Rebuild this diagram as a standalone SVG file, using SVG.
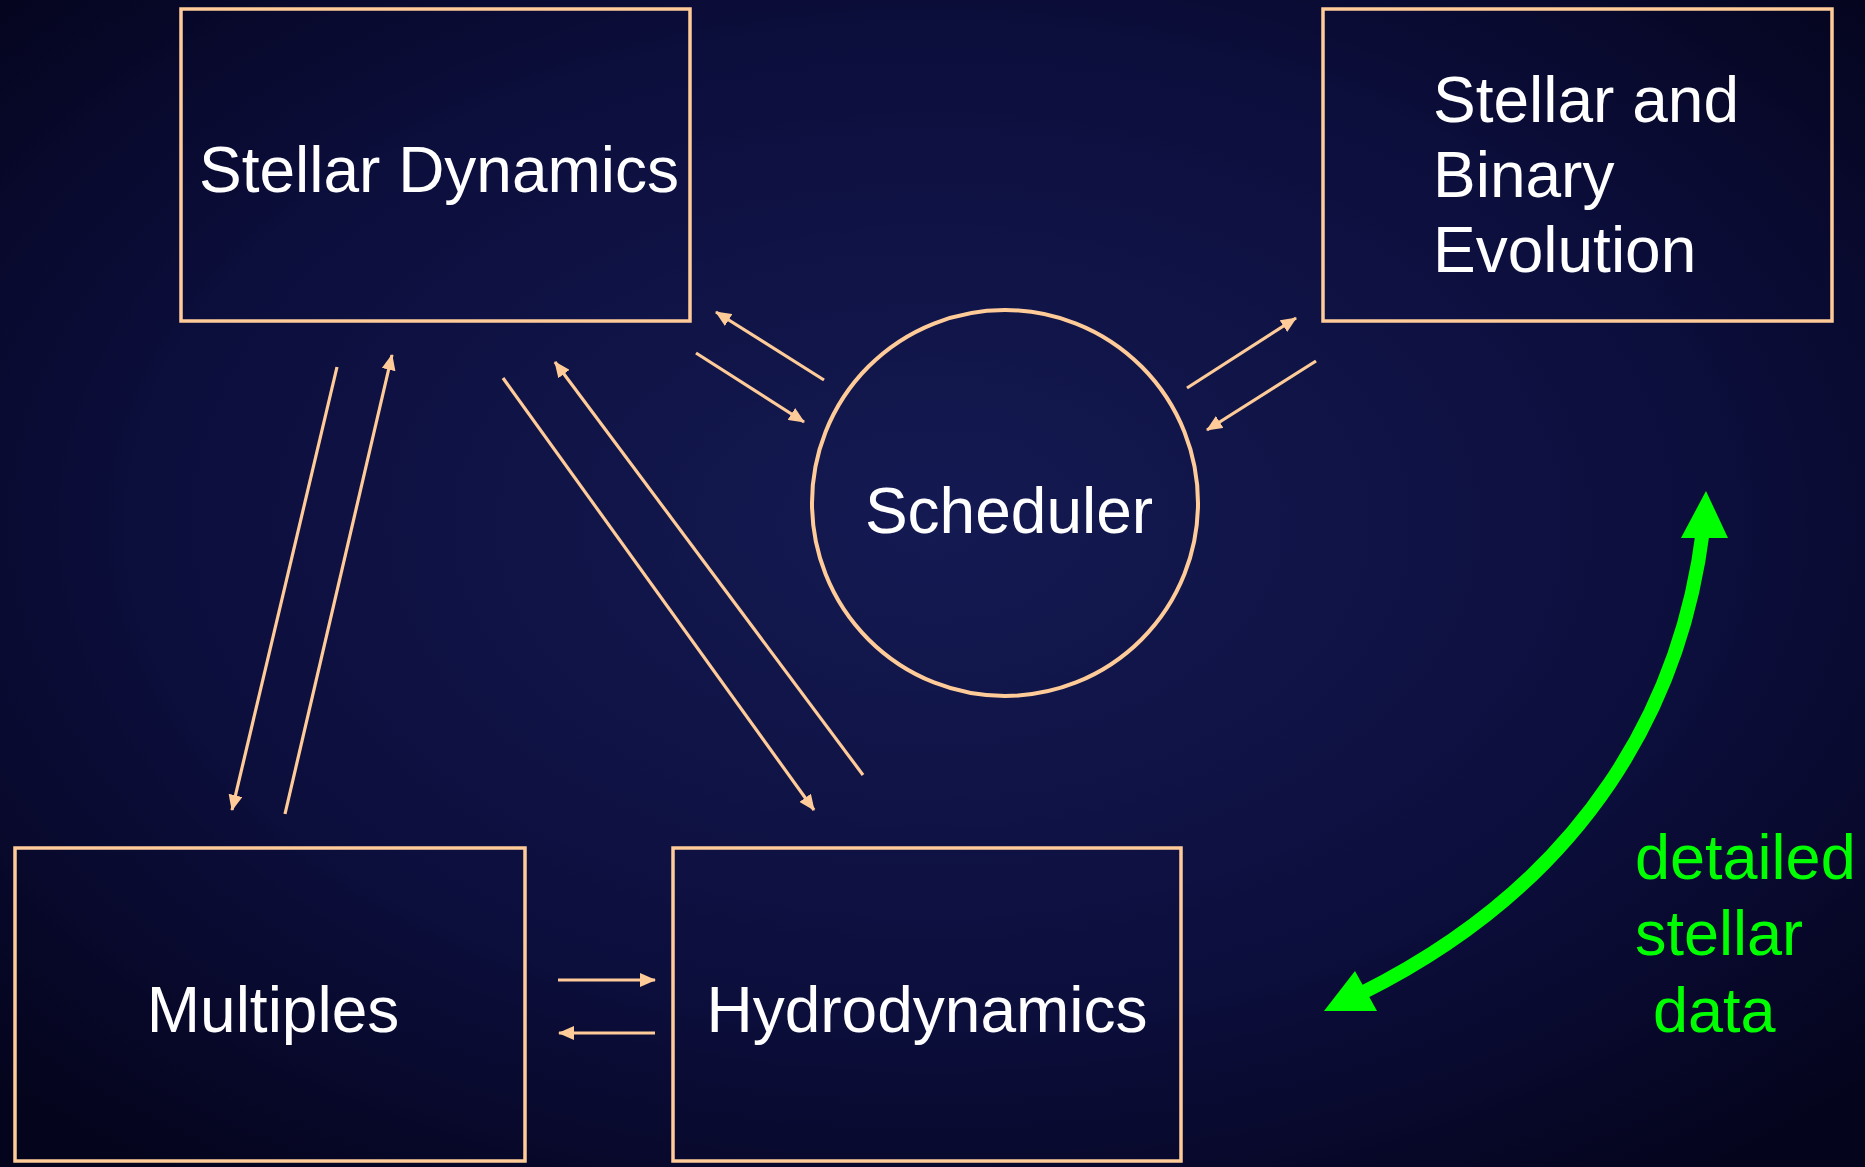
<svg xmlns="http://www.w3.org/2000/svg" width="1865" height="1167" viewBox="0 0 1865 1167">
  <defs>
    <radialGradient id="bg" cx="50%" cy="45%" r="70%">
      <stop offset="0" stop-color="#141a52"/>
      <stop offset="0.6" stop-color="#0c0e3c"/>
      <stop offset="1" stop-color="#04041c"/>
    </radialGradient>
    <marker id="ah" viewBox="0 0 16 14" markerWidth="16" markerHeight="14" refX="15" refY="7" markerUnits="userSpaceOnUse" orient="auto">
      <path d="M0,0 L16,7 L0,14 z" fill="#FFCC99"/>
    </marker>
    <style>
      .box { fill: none; stroke: #FFCC99; stroke-width: 3.5; }
      .lbl { font-family: "Liberation Sans", Arial, sans-serif; font-size: 64px; fill: #ffffff; }
      .grn { font-family: "Liberation Sans", Arial, sans-serif; font-size: 63px; fill: #00ff00; }
      .con { stroke: #FFCC99; stroke-width: 3.2; fill: none; marker-end: url(#ah); }
    </style>
  </defs>
  <rect x="0" y="0" width="1865" height="1167" fill="url(#bg)"/>

  <g id="stellar-dynamics">
    <rect class="box" x="181" y="9" width="509" height="312"/>
    <text class="lbl" x="439" y="192" text-anchor="middle">Stellar Dynamics</text>
  </g>
  <g id="stellar-binary-evolution">
    <rect class="box" x="1323" y="9" width="509" height="312"/>
    <text class="lbl" x="1433" y="122">Stellar and</text>
    <text class="lbl" x="1433" y="197">Binary</text>
    <text class="lbl" x="1433" y="272">Evolution</text>
  </g>
  <g id="scheduler">
    <circle cx="1005" cy="503" r="193" fill="none" stroke="#FFCC99" stroke-width="4"/>
    <text class="lbl" x="1009" y="533" text-anchor="middle">Scheduler</text>
  </g>
  <g id="multiples">
    <rect class="box" x="15" y="848" width="510" height="313"/>
    <text class="lbl" x="273" y="1032" text-anchor="middle">Multiples</text>
  </g>
  <g id="hydrodynamics">
    <rect class="box" x="673" y="848" width="508" height="313"/>
    <text class="lbl" x="927" y="1032" text-anchor="middle">Hydrodynamics</text>
  </g>

  <g id="connectors">
    <line class="con" x1="824" y1="380" x2="716" y2="312"/>
    <line class="con" x1="696" y1="353" x2="804" y2="422"/>
    <line class="con" x1="1187" y1="388" x2="1296" y2="318"/>
    <line class="con" x1="1316" y1="361" x2="1207" y2="430"/>
    <line class="con" x1="337" y1="367" x2="232" y2="810"/>
    <line class="con" x1="285" y1="814" x2="392" y2="355"/>
    <line class="con" x1="503" y1="378" x2="814" y2="810"/>
    <line class="con" x1="863" y1="775" x2="555" y2="362"/>
    <line class="con" x1="558" y1="980" x2="655" y2="980"/>
    <line class="con" x1="655" y1="1033" x2="559" y2="1033"/>
  </g>

  <g id="data-arrow">
    <path d="M1703,530 C1682,700 1590,880 1360,994" fill="none" stroke="#00ff00" stroke-width="14"/>
    <polygon points="1706,491 1681,538 1728,538" fill="#00ff00"/>
    <polygon points="1324,1011 1355,971 1377,1011" fill="#00ff00"/>
    <text class="grn" x="1635" y="879">detailed</text>
    <text class="grn" x="1635" y="955">stellar</text>
    <text class="grn" x="1653" y="1032">data</text>
  </g>
</svg>
